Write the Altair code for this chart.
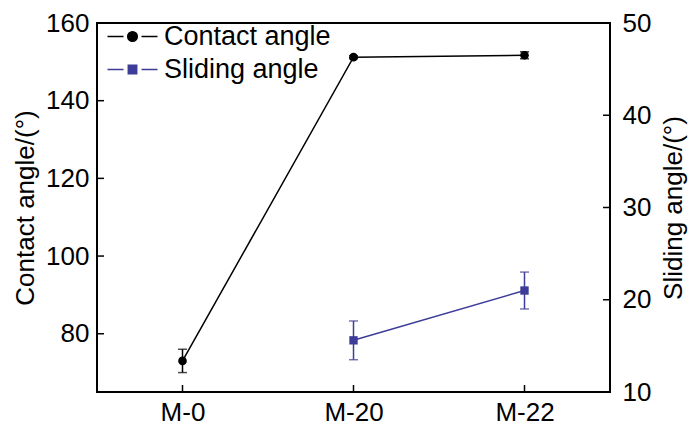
import altair as alt
import pandas as pd

# ---------------- data ----------------
categories = ["M-0", "M-20", "M-22"]
contact_angle = [73.0, 151.2, 151.7]
contact_err = [3.0, 0.4, 0.9]
sliding_angle = [None, 15.6, 21.0]
sliding_err = [None, 2.1, 2.0]
series_names = ["Contact angle", "Sliding angle"]
left_tick_values = [80, 100, 120, 140, 160]
right_tick_values = [10, 20, 30, 40, 50]

# ---------------- style ----------------
BLACK = "#000000"
NAVY = "#3d3d99"
FONT = "Liberation Sans"
FS = 26
LFS = 27
W, H = 513, 369
TICK = 7

contact_df = pd.DataFrame({"cat": categories, "v": contact_angle, "e": contact_err})
contact_df["lo"] = contact_df["v"] - contact_df["e"]
contact_df["hi"] = contact_df["v"] + contact_df["e"]

slide_df = pd.DataFrame({"cat": categories, "v": sliding_angle, "e": sliding_err}).dropna()
slide_df["lo"] = slide_df["v"] - slide_df["e"]
slide_df["hi"] = slide_df["v"] + slide_df["e"]

x_scale = alt.Scale(type="point", domain=categories, padding=0.5)
x_axis = alt.Axis(title=None, labelAngle=0, ticks=False, domain=False,
                  labelPadding=7, grid=False)


def X(axis=False):
    if axis:
        return alt.X("cat:N", scale=x_scale, axis=x_axis)
    return alt.X("cat:N", scale=x_scale)


# ---- left group (contact angle) ----
left_scale = alt.Scale(domain=[65, 160], nice=False, zero=False)
left_axis = alt.Axis(values=left_tick_values, title="Contact angle/(°)",
                     ticks=False, domain=False, labelPadding=8,
                     titlePadding=7, grid=False)
cbase = alt.Chart(contact_df)
c_line = cbase.mark_line(color=BLACK, strokeWidth=1.5).encode(
    x=X(True), y=alt.Y("v:Q", scale=left_scale, axis=left_axis))
c_err = cbase.mark_rule(color=BLACK, strokeWidth=1.5).encode(
    x=X(), y=alt.Y("lo:Q"), y2="hi:Q")
c_cap_lo = cbase.mark_tick(color=BLACK, size=9, thickness=1.5).encode(
    x=X(), y=alt.Y("lo:Q"))
c_cap_hi = cbase.mark_tick(color=BLACK, size=9, thickness=1.5).encode(
    x=X(), y=alt.Y("hi:Q"))
c_pts = cbase.mark_point(filled=True, shape="circle", size=75, color=BLACK, opacity=1).encode(
    x=X(), y=alt.Y("v:Q"))
l_ticks = alt.Chart(pd.DataFrame({"v": left_tick_values})).mark_rule(
    color=BLACK, strokeWidth=1.5).encode(
    y=alt.Y("v:Q"), x=alt.value(0), x2=alt.value(TICK))
x_ticks = alt.Chart(pd.DataFrame({"cat": categories})).mark_rule(
    color=BLACK, strokeWidth=1.5).encode(
    x=X(), y=alt.value(H - TICK), y2=alt.value(H))

# ---- legend (Vega legend, custom line-marker-line symbols) ----
sym_circle = "M-2.5,0H-0.9M0.9,0H2.5M-0.48,0A0.48,0.48,0,1,1,0.48,0A0.48,0.48,0,1,1,-0.48,0Z"
sym_square = "M-2.5,0H-0.9M0.9,0H2.5M-0.42,-0.42H0.42V0.42H-0.42Z"
leg = alt.Legend(title=None, orient="none", legendX=22, legendY=0,
                 symbolSize=400, symbolStrokeWidth=1.5, symbolOpacity=1,
                 labelFontSize=LFS, labelFont=FONT, labelColor=BLACK, labelLimit=0,
                 labelOffset=18, rowPadding=5, padding=0)
color_scale = alt.Scale(domain=series_names, range=[BLACK, NAVY])
legend_layer = alt.Chart(pd.DataFrame({"series": series_names})).mark_point(
    filled=False, opacity=0).encode(
    x=alt.value(0), y=alt.value(0),
    color=alt.Color("series:N", scale=color_scale, legend=leg),
    fill=alt.Fill("series:N", scale=color_scale, legend=leg),
    shape=alt.Shape("series:N",
                    scale=alt.Scale(domain=series_names, range=[sym_circle, sym_square]),
                    legend=leg),
)

left = alt.layer(c_line, c_err, c_cap_lo, c_cap_hi, c_pts, l_ticks, x_ticks, legend_layer)

# ---- right group (sliding angle) ----
right_scale = alt.Scale(domain=[10, 50], nice=False, zero=False)
right_axis = alt.Axis(orient="right", values=right_tick_values,
                      title="Sliding angle/(°)", ticks=False, domain=False,
                      labelPadding=12, titlePadding=10, titleAngle=270,
                      titleBaseline="top", grid=False)
sbase = alt.Chart(slide_df)
s_line = sbase.mark_line(color=NAVY, strokeWidth=1.5).encode(
    x=X(), y=alt.Y("v:Q", scale=right_scale, axis=right_axis))
s_err = sbase.mark_rule(color=NAVY, strokeWidth=1.5).encode(
    x=X(), y=alt.Y("lo:Q"), y2="hi:Q")
s_cap_lo = sbase.mark_tick(color=NAVY, size=9, thickness=1.5).encode(
    x=X(), y=alt.Y("lo:Q"))
s_cap_hi = sbase.mark_tick(color=NAVY, size=9, thickness=1.5).encode(
    x=X(), y=alt.Y("hi:Q"))
s_pts = sbase.mark_point(filled=True, shape="square", size=70, color=NAVY, opacity=1).encode(
    x=X(), y=alt.Y("v:Q"))
r_ticks = alt.Chart(pd.DataFrame({"v": right_tick_values})).mark_rule(
    color=BLACK, strokeWidth=1.5).encode(
    y=alt.Y("v:Q"), x=alt.value(W - TICK), x2=alt.value(W))

right = alt.layer(s_line, s_err, s_cap_lo, s_cap_hi, s_pts, r_ticks)

chart = alt.layer(left, right).resolve_scale(y="independent").properties(
    width=W, height=H,
    autosize=alt.AutoSizeParams(type="none"),
    padding={"left": 89, "top": 15, "right": 82, "bottom": 37},
).configure_view(
    stroke=BLACK, strokeWidth=2
).configure_axis(
    labelFont=FONT, titleFont=FONT, labelFontSize=FS, titleFontSize=FS,
    labelColor=BLACK, titleColor=BLACK, titleFontWeight="normal", grid=False
)

chart.save("out.html", embed_options={"renderer": "svg", "actions": False})
